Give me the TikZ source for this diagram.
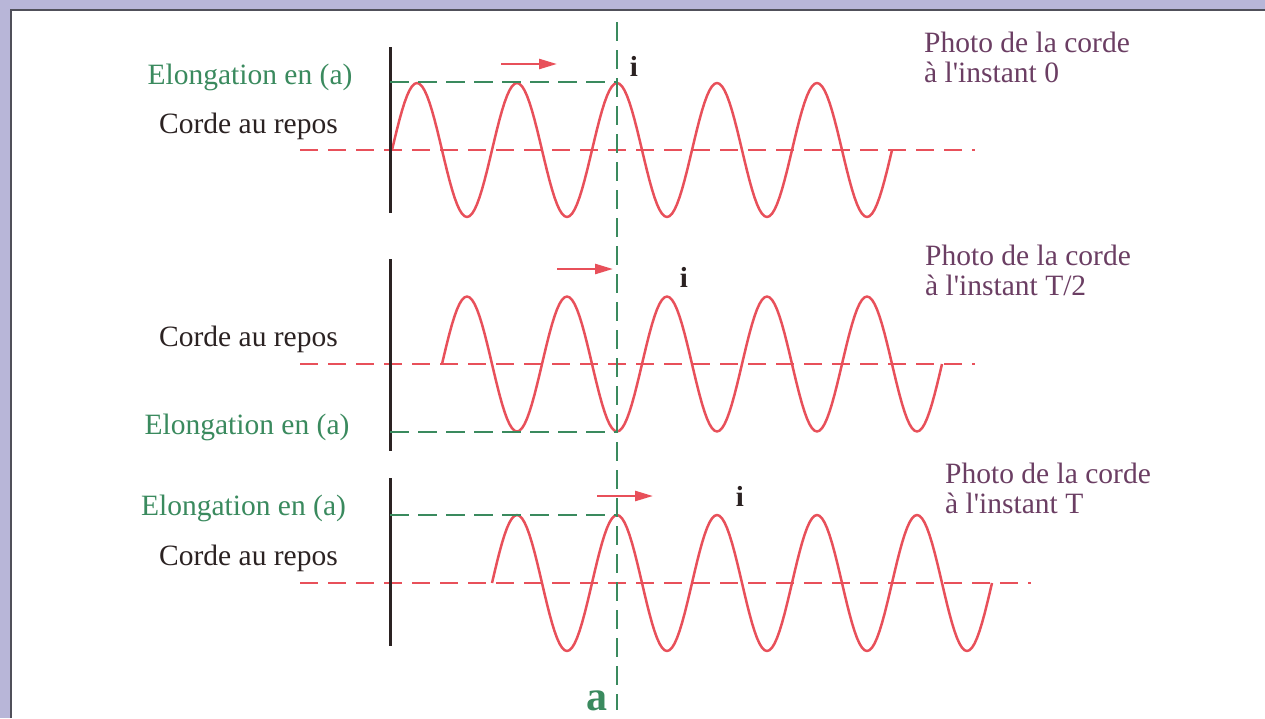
\documentclass[tikz,border=0pt]{standalone}
\usepackage{fontspec}
\setmainfont{Liberation Serif}
\newfontfamily\plainserif{Liberation Serif}
\usetikzlibrary{arrows.meta}
\definecolor{wavered}{HTML}{E8505A}
\definecolor{elgreen}{HTML}{3A8A5E}
\definecolor{phpurple}{HTML}{6B3E63}
\definecolor{darktext}{HTML}{2B2222}
\definecolor{lav}{HTML}{B8B6D8}
\definecolor{framegray}{HTML}{50505A}
\newcommand{\apos}{{\plainserif\char39\relax}}
\begin{document}
\begin{tikzpicture}[x=1pt,y=-1pt,
  wave/.style={wavered, line width=2.5pt, line join=round},
  rest/.style={wavered, line width=2.4pt, dash pattern=on 18pt off 10pt},
  guide/.style={elgreen, line width=2.4pt, dash pattern=on 19pt off 9pt},
  wall/.style={darktext, line width=3pt},
  motion/.style={wavered, line width=2.5pt, -{Triangle[length=18pt,width=10pt]}},
  lbl/.style={font=\fontsize{29.5}{30}\selectfont, inner sep=0pt, anchor=base},
  elong/.style={lbl, text=elgreen},
  repos/.style={lbl, text=darktext},
  photo/.style={font=\fontsize{29.5}{30}\selectfont, text=phpurple, inner sep=0pt, anchor=base west},
  idot/.style={font=\bfseries\fontsize{29}{30}\selectfont, text=darktext, inner sep=0pt, anchor=base},
  alabel/.style={font=\bfseries\fontsize{42}{44}\selectfont, text=elgreen, inner sep=0pt, anchor=base}]
\useasboundingbox (0,0) rectangle (1265,718);
\fill[white] (0,0) rectangle (1265,718);
% frame
\fill[lav] (0,0) rectangle (1265,8.5);
\fill[lav] (0,0) rectangle (9.5,718);
\coordinate (fbl) at (10.5,718);
\coordinate (ftl) at (10.5,9.5);
\coordinate (ftr) at (1265,9.5);
\draw[framegray, line width=2pt] (fbl) -- (ftl) -- (ftr);

% ---------- panel 1 ----------
\coordinate (r1a) at (300,150); \coordinate (r1b) at (975,150);
\draw[rest] (r1a) -- (r1b);
\draw[wave] plot[domain=0:500, samples=201] ({392+\x},{150-67*sin(3.6*\x)});
\coordinate (w1a) at (390,47); \coordinate (w1b) at (390,213);
\draw[wall] (w1a) -- (w1b);
\coordinate (g1a) at (390,82); \coordinate (g1b) at (617,82);
\draw[guide] (g1a) -- (g1b);
\coordinate (m1a) at (501,64); \coordinate (m1b) at (557,64);
\draw[motion] (m1a) -- (m1b);
\node[idot] (i1) at (634,76) {i};
\node[elong] (e1) at (250,84) {Elongation en (a)};
\node[repos] (c1) at (248.5,133) {Corde au repos};
\node[photo] (p1a) at (924,52) {Photo de la corde};
\node[photo] (p1b) at (924,82) {à l\apos instant 0};

% ---------- panel 2 ----------
\coordinate (r2a) at (300,364); \coordinate (r2b) at (975,364);
\draw[rest] (r2a) -- (r2b);
\draw[wave] plot[domain=0:500, samples=201] ({442+\x},{364-67.5*sin(3.6*\x)});
\coordinate (w2a) at (390,259); \coordinate (w2b) at (390,451);
\draw[wall] (w2a) -- (w2b);
\coordinate (g2a) at (390,432); \coordinate (g2b) at (617,432);
\draw[guide] (g2a) -- (g2b);
\coordinate (m2a) at (557,269); \coordinate (m2b) at (613,269);
\draw[motion] (m2a) -- (m2b);
\node[idot] (i2) at (684,287) {i};
\node[repos] (c2) at (248.5,346) {Corde au repos};
\node[elong] (e2) at (247,434) {Elongation en (a)};
\node[photo] (p2a) at (925,265) {Photo de la corde};
\node[photo] (p2b) at (925,295) {à l\apos instant T/2};

% ---------- panel 3 ----------
\coordinate (r3a) at (300,583); \coordinate (r3b) at (1031,583);
\draw[rest] (r3a) -- (r3b);
\draw[wave] plot[domain=0:500, samples=201] ({492+\x},{583-68*sin(3.6*\x)});
\coordinate (w3a) at (390,478); \coordinate (w3b) at (390,646);
\draw[wall] (w3a) -- (w3b);
\coordinate (g3a) at (390,515); \coordinate (g3b) at (617,515);
\draw[guide] (g3a) -- (g3b);
\coordinate (m3a) at (597,496); \coordinate (m3b) at (653,496);
\draw[motion] (m3a) -- (m3b);
\node[idot] (i3) at (740,506) {i};
\node[elong] (e3) at (243.5,515) {Elongation en (a)};
\node[repos] (c3) at (248.5,565) {Corde au repos};
\node[photo] (p3a) at (945,483) {Photo de la corde};
\node[photo] (p3b) at (945,513) {à l\apos instant T};

% ---------- position a ----------
\coordinate (va) at (617,22); \coordinate (vb) at (617,710);
\draw[guide] (va) -- (vb);
\node[alabel] (alab) at (597,710) {a};
\end{tikzpicture}
\end{document}
